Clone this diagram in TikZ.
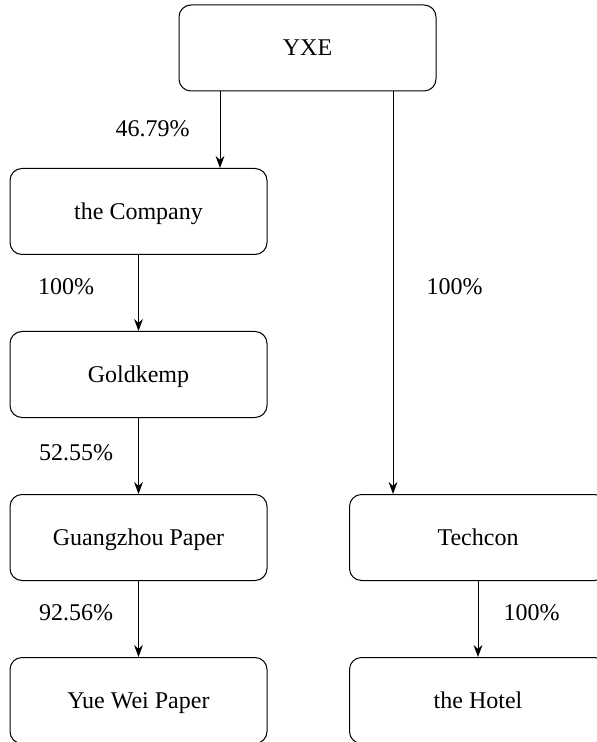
\documentclass[tikz,border=0pt,12pt]{standalone}
\usepackage{fontspec}
\setmainfont{Liberation Serif}
\usetikzlibrary{positioning, arrows.meta}

\begin{document}
\begin{tikzpicture}[>={Stealth[length=6pt,width=4.4pt]},node distance=81.5pt,on grid,
        entity/.style={draw, rounded corners=6pt, minimum width=128.5pt, minimum height=43pt, line width=0.5pt, text height=9.5pt, text depth=1.5pt}]
        \useasboundingbox (0,0) rectangle (298.5pt,-371pt);
        \node[entity] (yxe) at (153.75pt,-24pt) {YXE};
        \node[entity] (company) [below left=81.75pt and 84.5pt of yxe] {the Company};
        \node[entity] (goldkemp) [below=of company] {Goldkemp};
        \node[entity] (guangzhou) [below=of goldkemp] {Guangzhou Paper};
        \node[entity] (yuewei) [below=of guangzhou] {Yue Wei Paper};
        \node[entity] (techcon) [right=169.75pt of guangzhou] {Techcon};
        \node[entity] (hotel) [below=of techcon] {the Hotel};

        \path[->, line width=0.5pt]
        ([xshift=-43.75pt]yxe.south) edge node[left=11pt, pos=0.48] {46.79\%} ([xshift=-43.75pt]yxe.south |- company.north)
        ([xshift=42.75pt]yxe.south) edge node[right=12.5pt, pos=0.486] {100\%} ([xshift=42.75pt]yxe.south |- techcon.north)
        (company) edge node[left=18pt, pos=0.42] {100\%} (goldkemp)
        (goldkemp) edge node[left=8.5pt, pos=0.45] {52.55\%} (guangzhou)
        (guangzhou) edge node[left=8.5pt, pos=0.42] {92.56\%} (yuewei)
        (techcon) edge node[right=8.5pt, pos=0.42] {100\%} (hotel)
        ;
    \end{tikzpicture}
\end{document}
